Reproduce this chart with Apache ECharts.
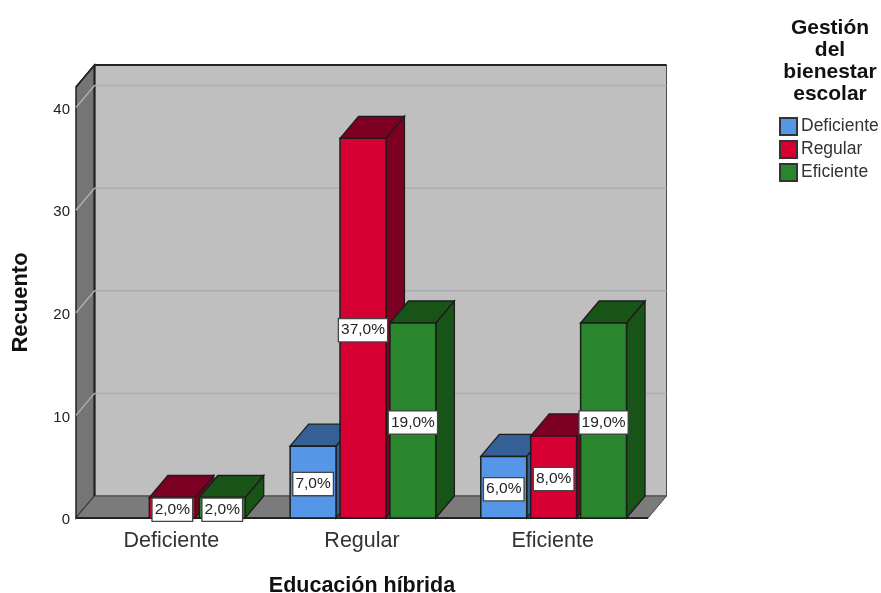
<!DOCTYPE html>
<html><head><meta charset="utf-8">
<style>html,body{margin:0;padding:0;background:#fff}#c{width:881px;height:593px}</style>
<script src="https://cdn.jsdelivr.net/npm/echarts@6/dist/echarts.min.js"></script>
</head><body><div id="c"></div>
<script>
const categories = ['Deficiente', 'Regular', 'Eficiente'];
const yTicks = [0, 10, 20, 30, 40];
const deficiente = [null, 7, 6];
const regular = [2, 37, 8];
const eficiente = [2, 19, 19];
const deficienteLabels = [null, '7,0%', '6,0%'];
const regularLabels = ['2,0%', '37,0%', '8,0%'];
const eficienteLabels = ['2,0%', '19,0%', '19,0%'];
const legendTitle = 'Gestión\ndel\nbienestar\nescolar';
const FONT = '"Liberation Sans", Arial, sans-serif';
const DX = 18.5, DY = 22;

function poly(points, fill, stroke, lw, z2) {
  return {type: 'polygon', shape: {points}, z2: z2 || 0,
    style: {fill, stroke: stroke || 'none', lineWidth: lw === undefined ? 1 : lw}};
}
function wallItem(params) {
  const c = params.coordSys, l = c.x, r = c.x + c.width, t = c.y, b = c.y + c.height;
  return {type: 'group', children: [
    poly([[l + DX, t - DY], [r + DX, t - DY], [r + DX, b - DY], [l + DX, b - DY]], '#bfbfbf', '#4a4a4a', 1),
    poly([[l, t], [l + DX, t - DY], [l + DX, b - DY], [l, b]], '#757575', '#222', 1.5),
    poly([[l, b], [l + DX, b - DY], [r + DX, b - DY], [r, b]], '#7b7b7b', '#444', 1),
    {type: 'line', shape: {x1: l, y1: t, x2: l + DX, y2: t - DY}, style: {stroke: '#222', lineWidth: 1.5}, z2: 2},
    {type: 'line', shape: {x1: l + DX, y1: t - DY, x2: r + DX, y2: t - DY}, style: {stroke: '#222', lineWidth: 2}, z2: 2},
    {type: 'line', shape: {x1: l + DX, y1: t - DY, x2: l + DX, y2: b - DY}, style: {stroke: '#222', lineWidth: 2}, z2: 2},
    {type: 'line', shape: {x1: l, y1: b, x2: r, y2: b}, style: {stroke: '#222', lineWidth: 2}, z2: 2}
  ]};
}
function gridItem(params, api) {
  const c = params.coordSys, y = api.coord([0, api.value(1)])[1], l = c.x, r = c.x + c.width;
  if (api.value(1) === 0) return {type: 'group', children: []};
  return {type: 'group', children: [
    {type: 'polyline', shape: {points: [[l, y], [l + DX, y - DY], [r + DX, y - DY]]},
      style: {fill: 'none', stroke: '#aeaeae', lineWidth: 1.5}, z2: 1}
  ]};
}
function barRenderer(seriesIdx, labels, front, side) {
  const band = 191, w = 46 / band, step = 50 / band, shift = 1 / band;
  return function (params, api) {
    const cat = api.value(0), val = api.value(1);
    if (val === null || val === undefined || isNaN(val)) return {type: 'group', children: []};
    const base = api.coord([cat, 0]), top = api.coord([cat, val]), bw = api.size([1, 0])[0];
    const cx = base[0] + bw * (shift + (seriesIdx - 1) * step);
    const x0 = cx - bw * w / 2, x1 = cx + bw * w / 2, y0 = top[1], y1 = base[1];
    const stroke = '#1c1c1c';
    const midY = (y0 + y1) / 2 + 2;
    return {type: 'group', children: [
      poly([[x1, y0], [x1 + DX, y0 - DY], [x1 + DX, y1 - DY], [x1, y1]], side, stroke, 1.3, 10),
      poly([[x0, y0], [x0 + DX, y0 - DY], [x1 + DX, y0 - DY], [x1, y0]], side, stroke, 1.3, 10),
      poly([[x0, y0], [x1, y0], [x1, y1], [x0, y1]], front, stroke, 1.5, 11),
      {type: 'text', x: cx, y: midY, z2: 100, style: {
        text: labels[cat], align: 'center', verticalAlign: 'middle', fill: '#222',
        font: '15.5px ' + FONT, backgroundColor: '#fff', borderColor: '#444', borderWidth: 1.3,
        padding: [3, 2, 3, 2]}}
    ]};
  };
}
function barSeries(name, idx, values, labels, front, side) {
  return {name, type: 'custom', coordinateSystem: 'cartesian2d', clip: false, z: 5,
    itemStyle: {color: front, borderColor: '#333', borderWidth: 1.5},
    renderItem: barRenderer(idx, labels, front, side),
    encode: {x: 0, y: 1},
    data: values.map((v, i) => [i, v])};
}
const chart = echarts.init(document.getElementById('c'), null, {renderer: 'canvas'});
chart.setOption({
  animation: false,
  backgroundColor: '#fff',
  title: {text: legendTitle, left: 825, top: 12, textAlign: 'center',
    textStyle: {fontFamily: FONT, fontWeight: 'bold', fontSize: 21, lineHeight: 22, color: '#111'}},
  legend: {orient: 'vertical', left: 779, top: 117, itemWidth: 17, itemHeight: 17, itemGap: 4,
    icon: 'rect', selectedMode: false, padding: 0, data: categories,
    textStyle: {fontFamily: FONT, fontSize: 17.5, lineHeight: 17, color: '#333', padding: [0, 0, 0, -1]}},
  grid: {left: 76, right: 233, top: 87, bottom: 75, outerBoundsMode: 'none'},
  xAxis: {type: 'category', data: categories, axisLine: {show: false}, axisTick: {show: false},
    splitLine: {show: false},
    axisLabel: {fontFamily: FONT, fontSize: 21.5, color: '#333', margin: 12},
    name: 'Educación híbrida', nameLocation: 'middle', nameGap: 57,
    nameTextStyle: {fontFamily: FONT, fontWeight: 'bold', fontSize: 21.5, color: '#111'}},
  yAxis: {type: 'value', min: 0, max: 42, interval: 10, axisLine: {show: false},
    axisTick: {show: false}, splitLine: {show: false},
    axisLabel: {fontFamily: FONT, fontSize: 15, color: '#222', margin: 6, showMaxLabel: false, verticalAlign: 'top', lineHeight: 4},
    name: 'Recuento', nameLocation: 'middle', nameGap: 44,
    nameTextStyle: {fontFamily: FONT, fontWeight: 'bold', fontSize: 22, color: '#111'}},
  series: [
    {type: 'custom', coordinateSystem: 'cartesian2d', clip: false, z: 1, silent: true,
      renderItem: wallItem, data: [[0, 0]], encode: {x: 0, y: 1}},
    {type: 'custom', coordinateSystem: 'cartesian2d', clip: false, z: 2, silent: true,
      renderItem: gridItem, data: yTicks.map(v => [0, v]), encode: {x: 0, y: 1}},
    barSeries('Deficiente', 0, deficiente, deficienteLabels, '#5596e6', '#345f97'),
    barSeries('Regular', 1, regular, regularLabels, '#d60032', '#7d0022'),
    barSeries('Eficiente', 2, eficiente, eficienteLabels, '#29862c', '#185418')
  ]
});
</script></body></html>
